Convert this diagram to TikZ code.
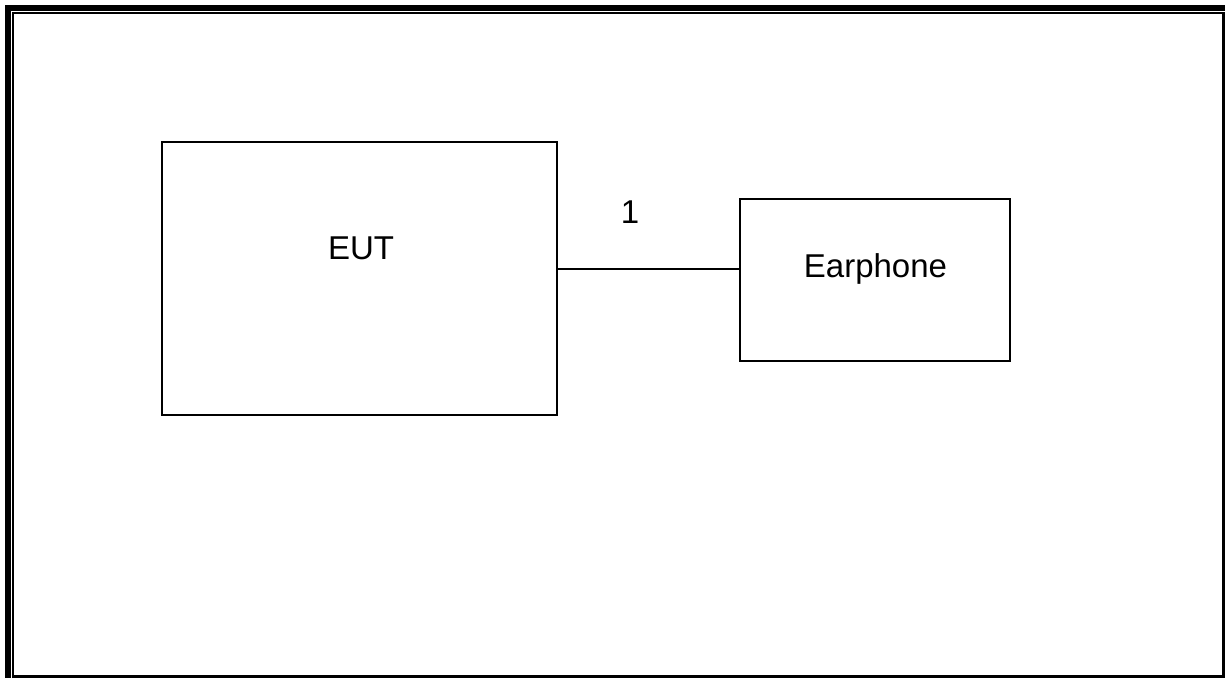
\documentclass[tikz,border=0pt]{standalone}
\usepackage{fontspec}
\setmainfont{Liberation Sans}
\usetikzlibrary{positioning}

\begin{document}
\begin{tikzpicture}[x=1pt,y=-1pt,
    unitbox/.style={draw,line width=2pt,inner sep=0pt},
    unitlabel/.style={anchor=base,inner sep=0pt,font=\fontsize{33}{38}\selectfont}]
        \useasboundingbox (0,0) rectangle (1225,678);
        % frame
        \fill (5,5) rectangle (11,678);
        \fill (5,5) rectangle (1225,11);
        \draw[line width=2pt] (13,678) -- (13,13) -- (1225,13);
        \draw[line width=3pt] (13,676.5) -- (1223.5,676.5) -- (1223.5,13);
        % units
        \node[unitbox,minimum width=395pt,minimum height=273pt] (eut) at (359.5,278.5) {};
        \node[unitlabel] (eutlabel) at (361,259) {EUT};
        \node[unitbox,minimum width=270pt,minimum height=162pt] (earphone) at (875,279.5) {};
        \node[unitlabel] (earlabel) at (875.5,277) {Earphone};
        % cable
        \coordinate (plug) at ([yshift=11pt]earphone.west);
        \draw[line width=2pt] (eut.east |- plug) -- (plug);
        \node[unitlabel] (cable) at (630,223) {1};
      \end{tikzpicture}
\end{document}
